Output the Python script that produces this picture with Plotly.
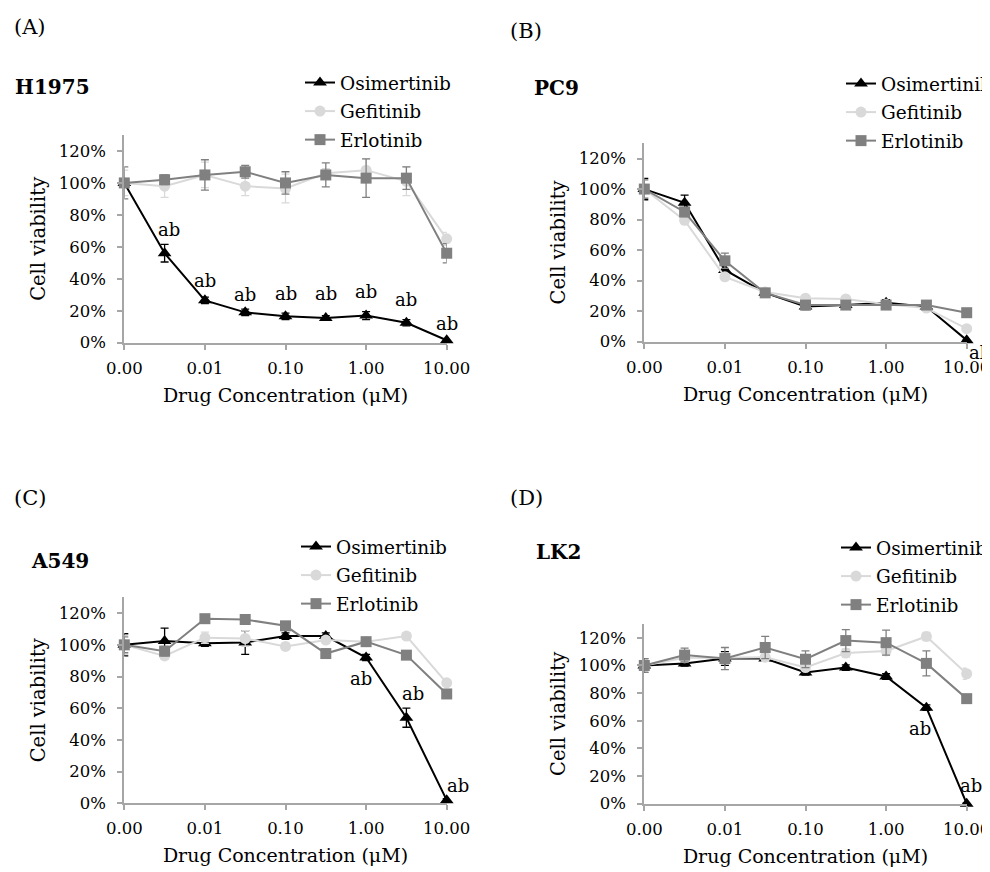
import plotly.graph_objects as go

# ---------------- data ----------------
concentrations = ["0.001", "0.003", "0.01", "0.03", "0.1", "0.3", "1", "3", "10"]
tick_categories = ["0.001", "0.01", "0.1", "1", "10"]
tick_labels = ["0.00", "0.01", "0.10", "1.00", "10.00"]
y_ticks = [0, 20, 40, 60, 80, 100, 120]
drugs = ["Osimertinib", "Gefitinib", "Erlotinib"]
panels = ["A", "B", "C", "D"]
cell_lines = ["H1975", "PC9", "A549", "LK2"]

h1975_osimertinib = [100, 56, 26.5, 19, 16.5, 15.5, 17, 12.5, 1.5]
h1975_osimertinib_err = [2, 5.5, 2, 2, 2, 1.5, 2.5, 2, 1]
h1975_gefitinib = [100, 98, 105, 98, 96.5, 106, 108, 101, 65]
h1975_gefitinib_err = [8, 7, 8, 6, 9, 3, 7, 9, 4]
h1975_erlotinib = [100, 102, 105, 107, 100, 105, 103, 103, 56]
h1975_erlotinib_err = [10, 3, 9.5, 4, 7, 7.5, 12, 7, 6]

pc9_osimertinib = [100, 91, 47, 32, 23, 24, 25.5, 23, 1]
pc9_osimertinib_err = [7, 5, 3, 1.5, 2, 1.5, 2, 1.5, 0.5]
pc9_gefitinib = [100, 79.5, 42.5, 32.5, 28.5, 28, 24.5, 22, 8.5]
pc9_gefitinib_err = [6, 2, 2, 1, 1, 1, 1, 1, 1]
pc9_erlotinib = [100, 85, 53, 32, 24, 24, 24, 24, 19]
pc9_erlotinib_err = [6, 3, 5, 1.5, 2, 1.5, 2, 1.5, 1]

a549_osimertinib = [100, 102.5, 101, 101.5, 105.5, 105.5, 92, 54, 2]
a549_osimertinib_err = [7, 8, 2, 7.5, 2, 2, 2, 6, 1]
a549_gefitinib = [100, 93, 104.5, 104, 99, 103, 102, 105.5, 76]
a549_gefitinib_err = [6, 2, 3.5, 5, 2, 2, 2, 2, 2]
a549_erlotinib = [100, 96, 116.5, 116, 112, 94.5, 102, 93.5, 69]
a549_erlotinib_err = [5, 3, 2, 2, 2, 2, 2, 2, 2]

lk2_osimertinib = [100, 101.5, 105, 105, 95, 98.5, 92, 69.5, 0]
lk2_osimertinib_err = [5, 2, 5, 2, 2, 2, 2, 2, 0.5]
lk2_gefitinib = [100, 105.5, 105.5, 106, 98.5, 109, 110.5, 121, 94]
lk2_gefitinib_err = [4, 3, 3, 3, 2, 3, 3, 3, 4]
lk2_erlotinib = [100, 107.5, 105, 113, 104.5, 118, 116.5, 101.5, 76]
lk2_erlotinib_err = [5, 5, 8, 8, 6, 8, 9, 9, 2]

panel_values = [
    [(h1975_osimertinib, h1975_osimertinib_err), (h1975_gefitinib, h1975_gefitinib_err), (h1975_erlotinib, h1975_erlotinib_err)],
    [(pc9_osimertinib, pc9_osimertinib_err), (pc9_gefitinib, pc9_gefitinib_err), (pc9_erlotinib, pc9_erlotinib_err)],
    [(a549_osimertinib, a549_osimertinib_err), (a549_gefitinib, a549_gefitinib_err), (a549_erlotinib, a549_erlotinib_err)],
    [(lk2_osimertinib, lk2_osimertinib_err), (lk2_gefitinib, lk2_gefitinib_err), (lk2_erlotinib, lk2_erlotinib_err)],
]

# significance marks "ab" on Osimertinib points: (panel, point index)
significance = {
    0: [1, 2, 3, 4, 5, 6, 7, 8],
    1: [8],
    2: [6, 7, 8],
    3: [7, 8],
}

# ---------------- layout / style ----------------
W, H = 990, 872
PAGE_OFFSET = 8  # default body margin of the page holding the figure
FONT = "DejaVu Serif"
AXIS_GRAY = "#a6a6a6"
styles = [
    dict(color="#000000", symbol="triangle-up", size=12),
    dict(color="#d9d9d9", symbol="circle", size=11),
    dict(color="#808080", symbol="square", size=11),
]

# plot areas in page pixels: (left, right, top, bottom)
areas = [(124.3, 446.7, 135, 342.7), (644.3, 966.7, 143.3, 341.7),
         (124.3, 446.7, 597.3, 803.3), (644.3, 966.7, 624, 803.7)]
legend_pos = [(300, 64), (841, 65), (296, 528), (836, 529)]
letter_pos = [(12, 27), (508, 31), (12, 498), (508, 498)]
name_pos = [(13, 87), (532, 88), (29, 561), (534, 552)]
# offsets (dx, dy) in px of "ab" label centre relative to the point
ab_offsets = {
    0: [(4, 24), (0, 20), (0, 18), (0, 23), (0, 24), (0, 24), (0, 23), (0, 17)],
    1: [(13, -12)],
    2: [(-5, -21), (7, 24), (11, 15)],
    3: [(-6, -21), (4, 18)],
}


def px_x(x):
    return (x - PAGE_OFFSET) / W


def px_y(y):
    return 1 - (y - PAGE_OFFSET) / H


fig = go.Figure()
annotations = []

for p in range(4):
    l, r, t, b = areas[p]
    xa = "xaxis" if p == 0 else f"xaxis{p + 1}"
    ya = "yaxis" if p == 0 else f"yaxis{p + 1}"
    xref = "x" if p == 0 else f"x{p + 1}"
    yref = "y" if p == 0 else f"y{p + 1}"
    leg = "legend" if p == 0 else f"legend{p + 1}"

    for d, (vals, errs) in enumerate(panel_values[p]):
        st = styles[d]
        fig.add_trace(go.Scatter(
            x=concentrations, y=vals, name=drugs[d], mode="lines+markers",
            xaxis=xref, yaxis=yref, legend=leg, legendgroup=f"{p}-{d}",
            line=dict(color=st["color"], width=2),
            marker=dict(color=st["color"], symbol=st["symbol"], size=st["size"]),
            error_y=dict(type="data", array=errs, visible=True, color=st["color"],
                         thickness=1.3, width=4),
            cliponaxis=False,
        ))

    fig.layout[xa] = dict(
        domain=[px_x(l), px_x(r)], anchor=yref, type="category", automargin=False,
        categoryorder="array", categoryarray=concentrations, range=[0, 8],
        tickmode="array", tickvals=tick_categories, ticktext=tick_labels,
        showline=True, linecolor=AXIS_GRAY, linewidth=2, ticks="outside",
        ticklen=5, tickwidth=2, tickcolor=AXIS_GRAY, showgrid=False, zeroline=False,
        tickfont=dict(family=FONT, size=16.5, color="black"), ticklabelstandoff=4,
        title=dict(text="Drug Concentration (μM)", font=dict(family=FONT, size=19, color="black"),
                   standoff=12),
    )
    fig.layout[ya] = dict(
        domain=[px_y(b), px_y(t)], anchor=xref, range=[0, 130], automargin=False,
        tickmode="array", tickvals=y_ticks, ticktext=[f"{v}%" for v in y_ticks],
        showline=True, linecolor=AXIS_GRAY, linewidth=2, ticks="outside",
        ticklen=5, tickwidth=2, tickcolor=AXIS_GRAY, showgrid=False, zeroline=False,
        tickfont=dict(family=FONT, size=16.5, color="black"), ticklabelstandoff=8,
        title=dict(text="Cell viability", font=dict(family=FONT, size=19.5, color="black"),
                   standoff=8),
    )
    lx, ly = legend_pos[p]
    fig.layout[leg] = dict(
        x=px_x(lx), y=px_y(ly), xanchor="left", yanchor="top",
        font=dict(family=FONT, size=18.5, color="black"), bgcolor="rgba(0,0,0,0)",
        tracegroupgap=1.5, traceorder="grouped", itemwidth=30,
    )

    # panel letter and cell line name
    annotations.append(dict(text=f"({panels[p]})", x=px_x(letter_pos[p][0]), y=px_y(letter_pos[p][1]),
                            xref="paper", yref="paper", xanchor="left", yanchor="middle",
                            showarrow=False, font=dict(family=FONT, size=21, color="black")))
    annotations.append(dict(text=f"<b>{cell_lines[p]}</b>", x=px_x(name_pos[p][0]), y=px_y(name_pos[p][1]),
                            xref="paper", yref="paper", xanchor="left", yanchor="middle",
                            showarrow=False, font=dict(family=FONT, size=20, color="black")))

    osi = panel_values[p][0][0]
    for k, idx in enumerate(significance[p]):
        dx, dy = ab_offsets[p][k]
        annotations.append(dict(text="ab", x=idx, y=osi[idx], xref=xref, yref=yref,
                                xshift=dx, yshift=dy, xanchor="center", yanchor="middle",
                                showarrow=False, font=dict(family=FONT, size=18, color="black")))

fig.update_layout(
    width=W, height=H, margin=dict(l=0, r=0, t=0, b=0),
    paper_bgcolor="white", plot_bgcolor="white",
    annotations=annotations, showlegend=True,
)

fig.write_html("out.html", config={"displayModeBar": False})
